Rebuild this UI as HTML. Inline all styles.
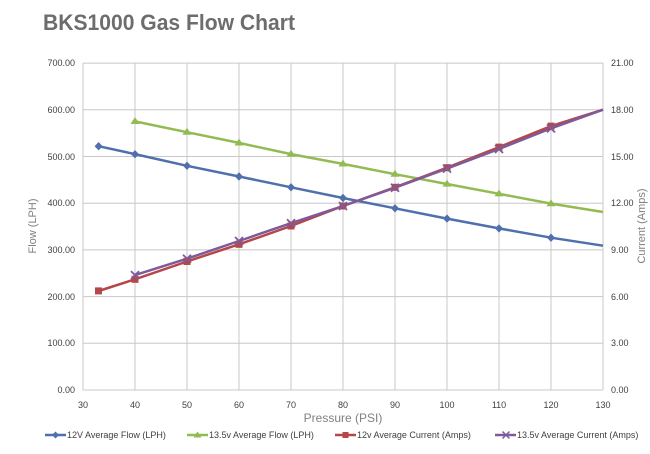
<!DOCTYPE html>
<html><head><meta charset="utf-8"><style>
body{margin:0;background:#fff;}
svg{display:block;font-family:"Liberation Sans",sans-serif;}
</style></head><body>
<svg width="650" height="454" viewBox="0 0 650 454" xmlns="http://www.w3.org/2000/svg">
<rect width="650" height="454" fill="#fff"/>
<text x="43" y="30" font-size="22" font-weight="bold" fill="#6d6d6d" textLength="252" lengthAdjust="spacingAndGlyphs">BKS1000 Gas Flow Chart</text>
<g stroke="#c8c8c8" stroke-width="1">
<line x1="83" y1="63.1" x2="603" y2="63.1"/><line x1="83" y1="109.8" x2="603" y2="109.8"/>
<line x1="83" y1="156.5" x2="603" y2="156.5"/><line x1="83" y1="203.2" x2="603" y2="203.2"/>
<line x1="83" y1="249.9" x2="603" y2="249.9"/><line x1="83" y1="296.6" x2="603" y2="296.6"/>
<line x1="83" y1="343.3" x2="603" y2="343.3"/><line x1="83" y1="390" x2="603" y2="390"/>
<line x1="83" y1="63" x2="83" y2="390"/><line x1="135" y1="63" x2="135" y2="390"/>
<line x1="187" y1="63" x2="187" y2="390"/><line x1="239" y1="63" x2="239" y2="390"/>
<line x1="291" y1="63" x2="291" y2="390"/><line x1="343" y1="63" x2="343" y2="390"/>
<line x1="395" y1="63" x2="395" y2="390"/><line x1="447" y1="63" x2="447" y2="390"/>
<line x1="499" y1="63" x2="499" y2="390"/><line x1="551" y1="63" x2="551" y2="390"/>
<line x1="603" y1="63" x2="603" y2="390"/>
</g>
<g font-size="9" fill="#404040" text-anchor="end">
<text x="75" y="66">700.00</text><text x="75" y="113">600.00</text><text x="75" y="160">500.00</text>
<text x="75" y="206">400.00</text><text x="75" y="253">300.00</text><text x="75" y="300">200.00</text>
<text x="75" y="346">100.00</text><text x="75" y="393">0.00</text>
</g>
<g font-size="9" fill="#404040">
<text x="611" y="66">21.00</text><text x="611" y="113">18.00</text><text x="611" y="160">15.00</text>
<text x="611" y="206">12.00</text><text x="611" y="253">9.00</text><text x="611" y="300">6.00</text>
<text x="611" y="346">3.00</text><text x="611" y="393">0.00</text>
</g>
<g font-size="9" fill="#404040" text-anchor="middle">
<text x="83" y="408">30</text><text x="135" y="408">40</text><text x="187" y="408">50</text>
<text x="239" y="408">60</text><text x="291" y="408">70</text><text x="343" y="408">80</text>
<text x="395" y="408">90</text><text x="447" y="408">100</text><text x="499" y="408">110</text>
<text x="551" y="408">120</text><text x="603" y="408">130</text>
</g>
<text x="343" y="422" font-size="12" fill="#808080" text-anchor="middle">Pressure (PSI)</text>
<text transform="translate(36,226) rotate(-90)" font-size="11" fill="#808080" text-anchor="middle">Flow (LPH)</text>
<text transform="translate(645,226) rotate(-90)" font-size="11" fill="#808080" text-anchor="middle">Current (Amps)</text>
<g fill="none" stroke-width="2.5" stroke-linejoin="round">
<polyline stroke="#4f6fad" points="98.6,146.2 135,154.1 187,165.8 239,176.5 291,187.3 343,198 395,208.3 447,218.6 499,228.4 551,237.7 603,245.7"/>
<polyline stroke="#93bb53" points="135,121.4 187,132.2 239,142.9 291,154.1 343,163.9 395,174.2 447,184 499,193.8 551,203.6 603,212"/>
<polyline stroke="#b44748" points="98.6,291 135,279.3 187,261.5 239,244.3 291,226 343,206 395,187.3 447,167.7 499,147.1 551,126.1 603,109.7"/>
<polyline stroke="#7f5a9a" points="135,275.1 187,258.7 239,241 291,223.2 343,206 395,187.7 447,168.6 499,149 551,128.4 603,109.7"/>
</g>
<g fill="#4f6fad">
<path d="M98.6,142 l4,4.2 -4,4.2 -4,-4.2z"/><path d="M135,150 l4,4.2 -4,4.2 -4,-4.2z"/><path d="M187,161.6 l4,4.2 -4,4.2 -4,-4.2z"/><path d="M239,172.3 l4,4.2 -4,4.2 -4,-4.2z"/><path d="M291,183.1 l4,4.2 -4,4.2 -4,-4.2z"/><path d="M343,193.8 l4,4.2 -4,4.2 -4,-4.2z"/><path d="M395,204.1 l4,4.2 -4,4.2 -4,-4.2z"/><path d="M447,214.4 l4,4.2 -4,4.2 -4,-4.2z"/><path d="M499,224.2 l4,4.2 -4,4.2 -4,-4.2z"/><path d="M551,233.5 l4,4.2 -4,4.2 -4,-4.2z"/>
</g>
<g fill="#93bb53">
<path d="M135,117 l4.5,7 -9,0z"/><path d="M187,127.8 l4.5,7 -9,0z"/><path d="M239,138.5 l4.5,7 -9,0z"/><path d="M291,149.7 l4.5,7 -9,0z"/><path d="M343,159.5 l4.5,7 -9,0z"/><path d="M395,169.8 l4.5,7 -9,0z"/><path d="M447,179.6 l4.5,7 -9,0z"/><path d="M499,189.4 l4.5,7 -9,0z"/><path d="M551,199.2 l4.5,7 -9,0z"/>
</g>
<g fill="#b44748">
<rect x="95" y="287.4" width="7" height="7"/><rect x="131.5" y="275.8" width="7" height="7"/><rect x="183.5" y="258" width="7" height="7"/><rect x="235.5" y="240.8" width="7" height="7"/><rect x="287.5" y="222.5" width="7" height="7"/><rect x="339.5" y="202.5" width="7" height="7"/><rect x="391.5" y="183.8" width="7" height="7"/><rect x="443.5" y="164.2" width="7" height="7"/><rect x="495.5" y="143.6" width="7" height="7"/><rect x="547.5" y="122.6" width="7" height="7"/>
</g>
<g stroke="#7f5a9a" stroke-width="1.8">
<path d="M131,271.1 l8,8 M139,271.1 l-8,8"/><path d="M183,254.7 l8,8 M191,254.7 l-8,8"/><path d="M235,237 l8,8 M243,237 l-8,8"/><path d="M287,219.2 l8,8 M295,219.2 l-8,8"/><path d="M339,202 l8,8 M347,202 l-8,8"/><path d="M391,183.7 l8,8 M399,183.7 l-8,8"/><path d="M443,164.6 l8,8 M451,164.6 l-8,8"/><path d="M495,145 l8,8 M503,145 l-8,8"/><path d="M547,124.4 l8,8 M555,124.4 l-8,8"/>
</g>
<g font-size="9" fill="#404040">
<line x1="45" y1="435" x2="66" y2="435" stroke="#4f6fad" stroke-width="2.5"/><path d="M55.5,431.5 l3.5,3.5 -3.5,3.5 -3.5,-3.5z" fill="#4f6fad"/>
<text x="67" y="438">12V Average Flow (LPH)</text>
<line x1="187" y1="435" x2="208" y2="435" stroke="#93bb53" stroke-width="2.5"/><path d="M197.5,431.5 l4,6 -8,0z" fill="#93bb53"/>
<text x="209" y="438">13.5v Average Flow (LPH)</text>
<line x1="335" y1="435" x2="356" y2="435" stroke="#b44748" stroke-width="2.5"/><rect x="342.5" y="432" width="6" height="6" fill="#b44748"/>
<text x="357" y="438">12v Average Current (Amps)</text>
<line x1="495" y1="435" x2="516" y2="435" stroke="#7f5a9a" stroke-width="2.5"/><path d="M502.5,431.5 l7,7 M509.5,431.5 l-7,7" stroke="#7f5a9a" stroke-width="1.5"/>
<text x="517" y="438">13.5v Average Current (Amps)</text>
</g>
</svg>
</body></html>
